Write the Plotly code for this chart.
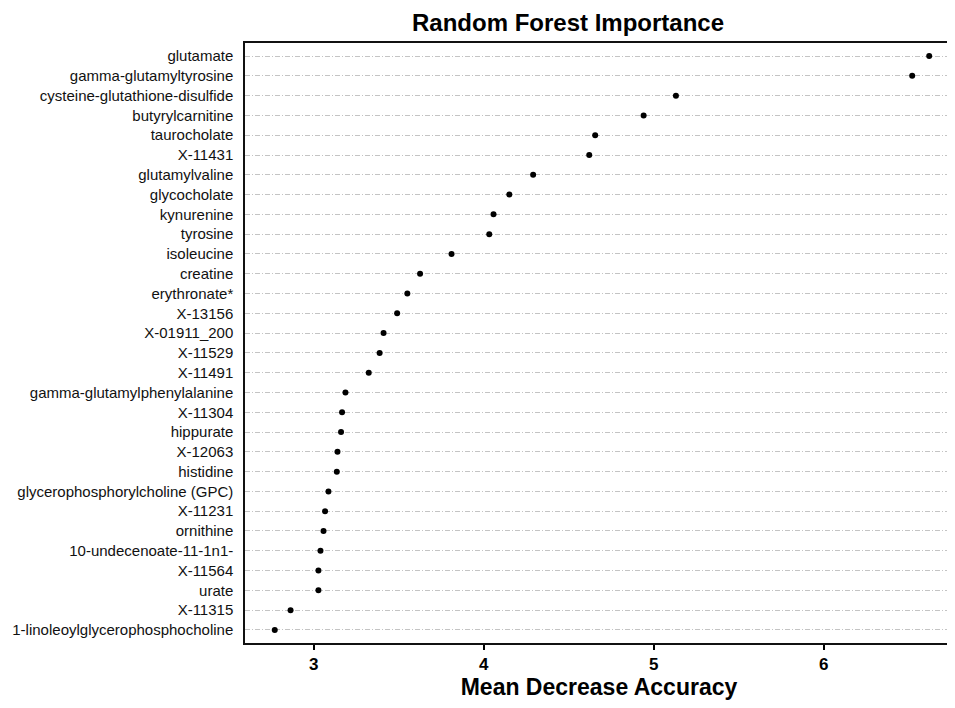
import plotly.graph_objects as go

metabolites = [
    "glutamate", "gamma-glutamyltyrosine", "cysteine-glutathione-disulfide",
    "butyrylcarnitine", "taurocholate", "X-11431", "glutamylvaline",
    "glycocholate", "kynurenine", "tyrosine", "isoleucine", "creatine",
    "erythronate*", "X-13156", "X-01911_200", "X-11529", "X-11491",
    "gamma-glutamylphenylalanine", "X-11304", "hippurate", "X-12063",
    "histidine", "glycerophosphorylcholine (GPC)", "X-11231", "ornithine",
    "10-undecenoate-11-1n1-", "X-11564", "urate", "X-11315",
    "1-linoleoylglycerophosphocholine",
]
importance = [
    6.62, 6.52, 5.13, 4.94, 4.655, 4.62, 4.29,
    4.15, 4.057, 4.032, 3.81, 3.625,
    3.55, 3.49, 3.41, 3.387, 3.323,
    3.186, 3.166, 3.16, 3.139,
    3.135, 3.086, 3.066, 3.057,
    3.039, 3.027, 3.027, 2.863,
    2.77,
]
x_ticks = [3, 4, 5, 6]

n = len(metabolites)
ypos = [n - 1 - i for i in range(n)]

W, H = 947, 700  # page body has an 8px margin in the browser

fig = go.Figure()
fig.add_trace(go.Scatter(
    x=importance, y=ypos, mode="markers",
    marker=dict(color="black", size=6),
    showlegend=False, hoverinfo="x+text", text=metabolites,
))

fig.update_layout(
    width=W, height=H,
    margin=dict(l=237, r=0, t=35, b=65),
    paper_bgcolor="white", plot_bgcolor="white",
    font=dict(family="Liberation Sans, Arial, sans-serif", color="#111"),
    title=dict(
        text="<b>Random Forest Importance</b>",
        x=(568 - 8) / W, xanchor="center", xref="container",
        y=1 - 15 / H, yanchor="middle", yref="container",
        font=dict(size=24, color="black"),
    ),
    xaxis=dict(
        range=[2.595, 6.76],
        tickvals=x_ticks,
        ticktext=[f"<b>{v}</b>" for v in x_ticks],
        tickfont=dict(size=17, color="black"),
        ticks="outside", ticklen=5, tickwidth=1.5, tickcolor="black",
        showgrid=False, zeroline=False,
        showline=True, linecolor="#111", linewidth=1.5, mirror=True,
        title=dict(text="<b>Mean Decrease Accuracy</b>",
                   font=dict(size=23, color="black"), standoff=6),
    ),
    yaxis=dict(
        range=[-0.66, n - 1 + 0.66],
        tickvals=ypos, ticktext=metabolites,
        tickfont=dict(size=15, color="#111"),
        ticks="", ticklabelstandoff=7,
        showgrid=True, gridcolor="#c4c4c4", gridwidth=1,
        griddash="5px,2px,1px,2px",
        zeroline=False,
        showline=True, linecolor="#111", linewidth=1.5, mirror=True,
    ),
)

fig.write_html("out.html")
